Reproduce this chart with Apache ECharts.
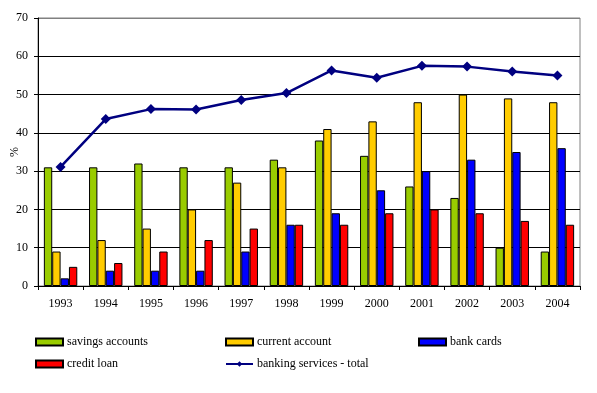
<!DOCTYPE html>
<html>
<head>
<meta charset="utf-8">
<script src="https://cdn.jsdelivr.net/npm/echarts@6/dist/echarts.min.js"></script>
<style>html,body{margin:0;padding:0;background:#fff}#c{width:597px;height:393px}</style>
</head>
<body>
<div id="c"></div>
<script>
const years = ['1993','1994','1995','1996','1997','1998','1999','2000','2001','2002','2003','2004'];
const savingsAccounts = [31, 31, 32, 31, 31, 33, 38, 34, 26, 23, 10, 9];
const currentAccount = [9, 12, 15, 20, 27, 31, 41, 43, 48, 50, 49, 48];
const bankCards = [2, 4, 4, 4, 9, 16, 19, 25, 30, 33, 35, 36];
const creditLoan = [5, 6, 9, 12, 15, 16, 16, 19, 20, 19, 17, 16];
const bankingTotal = [31.1, 43.6, 46.2, 46.1, 48.6, 50.4, 56.3, 54.4, 57.5, 57.3, 56.0, 55.0];
const yTicks = {min: 0, max: 70, interval: 10};

const font = 'Liberation Serif, Times New Roman, serif';
const chart = echarts.init(document.getElementById('c'));
function barSeries(name, data, color) {
  return {
    name, type: 'bar', data,
    barCategoryGap: '26%', barGap: '0%',
    itemStyle: {color, borderColor: '#000', borderWidth: 1},
    emphasis: {disabled: true}
  };
}
function leg(name, left, top, icon) {
  const l = {
    data: [name], left, top, padding: 0, itemWidth: 27, itemHeight: 7, itemGap: 5,
    textStyle: {fontFamily: font, fontSize: 12, color: '#000', padding: [0,0,0,-1]},
    selectedMode: false
  };
  if (icon) l.icon = icon;
  return l;
}
chart.setOption({
  animation: false,
  backgroundColor: '#fff',
  grid: {left: 38, right: 17, top: 18, bottom: 107, outerBoundsMode: 'none', containLabel: false,
         show: true, borderColor: '#808080', borderWidth: 1, backgroundColor: 'transparent'},
  legend: [
    leg('savings accounts', 35, 336, 'rect'),
    leg('current account', 225, 336, 'rect'),
    leg('bank cards', 418, 336, 'rect'),
    leg('credit loan', 35, 358, 'rect'),
    leg('banking services - total', 225, 358)
  ],
  xAxis: {
    type: 'category', data: years, boundaryGap: true,
    axisLine: {lineStyle: {color: '#000', width: 1}},
    axisTick: {show: true, interval: 0, length: 4, lineStyle: {color: '#000'}},
    axisLabel: {interval: 0, fontFamily: font, fontSize: 12, color: '#000', margin: 12},
    splitLine: {show: false}
  },
  yAxis: {
    type: 'value', min: yTicks.min, max: yTicks.max, interval: yTicks.interval,
    name: '%', nameLocation: 'middle', nameRotate: 90, nameGap: 17, nameMoveOverlap: false,
    nameTextStyle: {fontFamily: font, fontSize: 12, color: '#000'},
    axisLine: {show: true, lineStyle: {color: '#000', width: 1}},
    axisTick: {show: true, length: 4, lineStyle: {color: '#000'}},
    axisLabel: {fontFamily: font, fontSize: 12, color: '#000', margin: 10},
    splitLine: {show: true, lineStyle: {color: ['#000','#000','#000','#000','#000','#000','#000','#808080'], width: 1}}
  },
  series: [
    barSeries('savings accounts', savingsAccounts, '#99CC00'),
    barSeries('current account', currentAccount, '#FFCC00'),
    barSeries('bank cards', bankCards, '#0000FF'),
    barSeries('credit loan', creditLoan, '#FF0000'),
    {
      name: 'banking services - total', type: 'line', data: bankingTotal, z: 5,
      symbol: 'diamond', symbolSize: 10, showSymbol: true,
      lineStyle: {color: '#000080', width: 2.5},
      itemStyle: {color: '#000080', borderColor: '#000080', borderWidth: 0},
      emphasis: {disabled: true}
    }
  ]
});
</script>
</body>
</html>
